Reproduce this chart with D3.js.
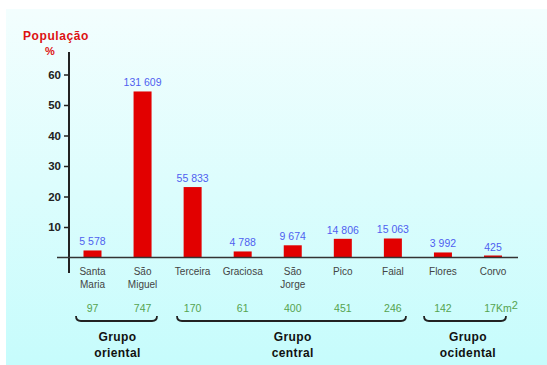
<!DOCTYPE html>
<html>
<head>
<meta charset="utf-8">
<script src="https://cdn.jsdelivr.net/npm/d3@7"></script>
<style>
  html, body { margin: 0; padding: 0; background: #ffffff; }
  svg { display: block; font-family: "Liberation Sans", Arial, sans-serif; }
</style>
</head>
<body>
<svg id="chart" width="547" height="365"></svg>
<script>
// Islands of the Azores, population and area
const islands = ["Santa|Maria", "São|Miguel", "Terceira", "Graciosa", "São|Jorge", "Pico", "Faial", "Flores", "Corvo"];
const population = [5578, 131609, 55833, 4788, 9674, 14806, 15063, 3992, 425];
const areaKm2 = ["97", "747", "170", "61", "400", "451", "246", "142", "17"];
const yTicks = [10, 20, 30, 40, 50, 60];
const groups = [
  { name: "Grupo|oriental", from: 0, to: 1 },
  { name: "Grupo|central", from: 2, to: 6 },
  { name: "Grupo|ocidental", from: 7, to: 8 }
];

const total = d3.sum(population);
const share = population.map(p => p / total * 100);

const svg = d3.select("#chart");

// background panel with a soft vertical gradient
const defs = svg.append("defs");
const grad = defs.append("linearGradient").attr("id", "bg").attr("x1", 0).attr("y1", 0).attr("x2", 0).attr("y2", 1);
grad.append("stop").attr("offset", "0%").attr("stop-color", "#f3fefe");
grad.append("stop").attr("offset", "100%").attr("stop-color", "#c6fcfc");
svg.append("rect").attr("x", 6).attr("y", 9).attr("width", 541).attr("height", 356).attr("fill", "url(#bg)");

const x = d3.scalePoint().domain(d3.range(islands.length)).range([92.5, 493]);
const y = d3.scaleLinear().domain([0, 60]).range([257.5, 74.5]);
const barW = 18;

// y axis
const axisX = 69;
svg.append("line").attr("x1", axisX).attr("x2", axisX).attr("y1", 52).attr("y2", 273)
  .attr("stroke", "#222").attr("stroke-width", 2);
const yAxis = svg.append("g").attr("transform", `translate(${axisX},0)`)
  .call(d3.axisLeft(y).tickValues(yTicks).tickSize(5).tickPadding(3).tickFormat(d3.format("d")));
yAxis.select(".domain").remove();
yAxis.selectAll(".tick line").attr("stroke", "#222").attr("stroke-width", 1.5);
yAxis.selectAll(".tick text").attr("fill", "#222").attr("font-size", 11.5).attr("font-weight", "bold")
  .attr("font-family", "'Liberation Sans', Arial, sans-serif");

// axis title
svg.append("text").attr("x", 56).attr("y", 40).attr("text-anchor", "middle")
  .attr("fill", "#dd1111").attr("font-size", 12).attr("font-weight", "bold")
  .attr("letter-spacing", 0.6).text("População");
svg.append("text").attr("x", 50).attr("y", 55).attr("text-anchor", "middle")
  .attr("fill", "#dd1111").attr("font-size", 11).attr("font-weight", "bold").text("%");

// bars
svg.append("g").selectAll("rect").data(share).join("rect")
  .attr("x", (d, i) => x(i) - barW / 2)
  .attr("y", d => Math.min(y(d), y(0) - 2))
  .attr("width", barW)
  .attr("height", d => Math.max(y(0) - y(d), 2))
  .attr("fill", "#e20000");

// baseline
svg.append("line").attr("x1", 57).attr("x2", 518).attr("y1", y(0)).attr("y2", y(0))
  .attr("stroke", "#333").attr("stroke-width", 1.5);

// population labels
svg.append("g").selectAll("text").data(population).join("text")
  .attr("x", (d, i) => x(i))
  .attr("y", (d, i) => Math.min(y(share[i]), y(0) - 2) - 5)
  .attr("text-anchor", "middle").attr("fill", "#4f5ff0").attr("font-size", 10.5)
  .text(d => d3.format(",")(d).replace(/,/g, " "));

// island names
const names = svg.append("g").selectAll("text").data(islands).join("text")
  .attr("x", (d, i) => x(i)).attr("y", 275)
  .attr("text-anchor", "middle").attr("fill", "#444").attr("font-size", 10);
names.each(function (d, i) {
  d.split("|").forEach((line, k) => {
    d3.select(this).append("tspan").attr("x", x(i)).attr("dy", k === 0 ? 0 : 13).text(line);
  });
});

// areas
const areas = svg.append("g").selectAll("text").data(areaKm2).join("text")
  .attr("x", (d, i) => x(i)).attr("y", 312)
  .attr("text-anchor", "middle").attr("fill", "#55a34f").attr("font-size", 10.5);
areas.each(function (d, i) {
  const t = d3.select(this);
  if (i === areaKm2.length - 1) {
    t.attr("x", x(i) + 8);
    t.append("tspan").text(d + "Km");
    t.append("tspan").attr("dy", -3).attr("font-size", 11).text("2");
  } else {
    t.text(d);
  }
});

// group brackets and names
const braceSpan = [[76, 157], [177, 406], [424, 506]];
groups.forEach((g, gi) => {
  const [x0, x1] = braceSpan[gi];
  const by = 321;
  svg.append("path")
    .attr("d", `M${x0},${by - 5} Q${x0},${by} ${x0 + 5},${by} L${x1 - 5},${by} Q${x1},${by} ${x1},${by - 5}`)
    .attr("fill", "none").attr("stroke", "#222").attr("stroke-width", 1.8);
  const cx = (x(g.from) + x(g.to)) / 2;
  const t = svg.append("text").attr("x", cx).attr("y", 341).attr("text-anchor", "middle")
    .attr("fill", "#111").attr("font-size", 12).attr("font-weight", "bold").attr("letter-spacing", 0.4);
  g.name.split("|").forEach((line, k) => {
    t.append("tspan").attr("x", cx).attr("dy", k === 0 ? 0 : 16).text(line);
  });
});
</script>
</body>
</html>
